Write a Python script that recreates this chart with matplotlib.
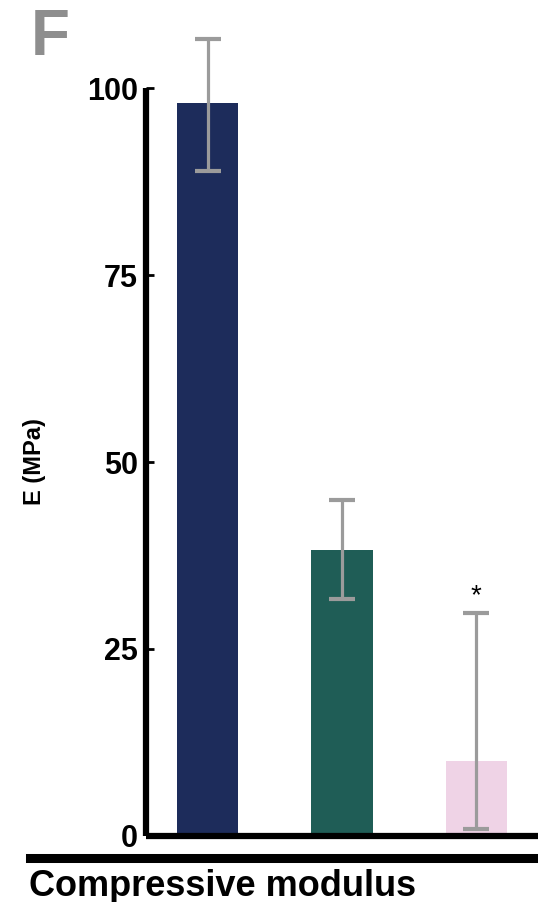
import numpy as np
import matplotlib
matplotlib.use("Agg")
import matplotlib.pyplot as plt
from matplotlib.lines import Line2D

plt.rcParams['font.family'] = ['Liberation Sans', 'DejaVu Sans']
plt.rcParams['font.weight'] = 'bold'

groups = ["A", "B", "C"]
modulus = [98.0, 38.2, 10.0]
err_lo = [9.1, 6.5, 9.1]
err_hi = [8.6, 6.7, 19.8]
colors = ["#1d2c5b", "#1f5d56", "#efd3e6"]
yticks = [0, 25, 50, 75, 100]

fig = plt.figure(figsize=(5.38, 9.02), dpi=100)
ax = fig.add_axes([0.2714, 0.0732, 0.7286, 0.8292])

x = np.arange(len(groups))
ax.bar(x, modulus, width=0.455, color=colors, zorder=1)
ax.errorbar(x, modulus, yerr=[err_lo, err_hi], fmt='none', ecolor='#9b9b9b',
            elinewidth=2.3, capsize=9.5, capthick=3, clip_on=False, zorder=2)

# significance mark over the last group
ax.annotate("*", (x[2], modulus[2] + err_hi[2]), xytext=(0, 3),
            textcoords='offset points', ha='center', va='bottom',
            fontsize=20, fontweight='normal')

ax.set_xlim(-0.46, 2.46)
ax.set_ylim(0, 100)
ax.set_yticks(yticks)
ax.set_yticklabels([str(t) for t in yticks], fontsize=22, fontweight='bold')
ax.set_xticks([])
ax.tick_params(axis='y', direction='in', length=6, width=2, pad=6)

for s in ['top', 'right']:
    ax.spines[s].set_visible(False)
for s in ['left', 'bottom']:
    ax.spines[s].set_linewidth(4.5)
    ax.spines[s].set_capstyle('butt')

ax.set_ylabel("E (MPa)", fontsize=17, fontweight='bold', labelpad=0)
ax.yaxis.set_label_coords(-0.255, 0.5)

# panel letter
fig.text(0.058, 0.991, "F", fontsize=46, fontweight='bold', color='#8e8e8e',
         va='top', ha='left')

# rule and group caption under the plot
fig.add_artist(Line2D([0.056, 1.0], [0.0485, 0.0485], color='black',
                      linewidth=6.5, transform=fig.transFigure))
fig.text(0.054, 0.007, "Compressive modulus", fontsize=26, fontweight='bold',
         ha='left', va='baseline')

fig.savefig("out.png", dpi=100)
